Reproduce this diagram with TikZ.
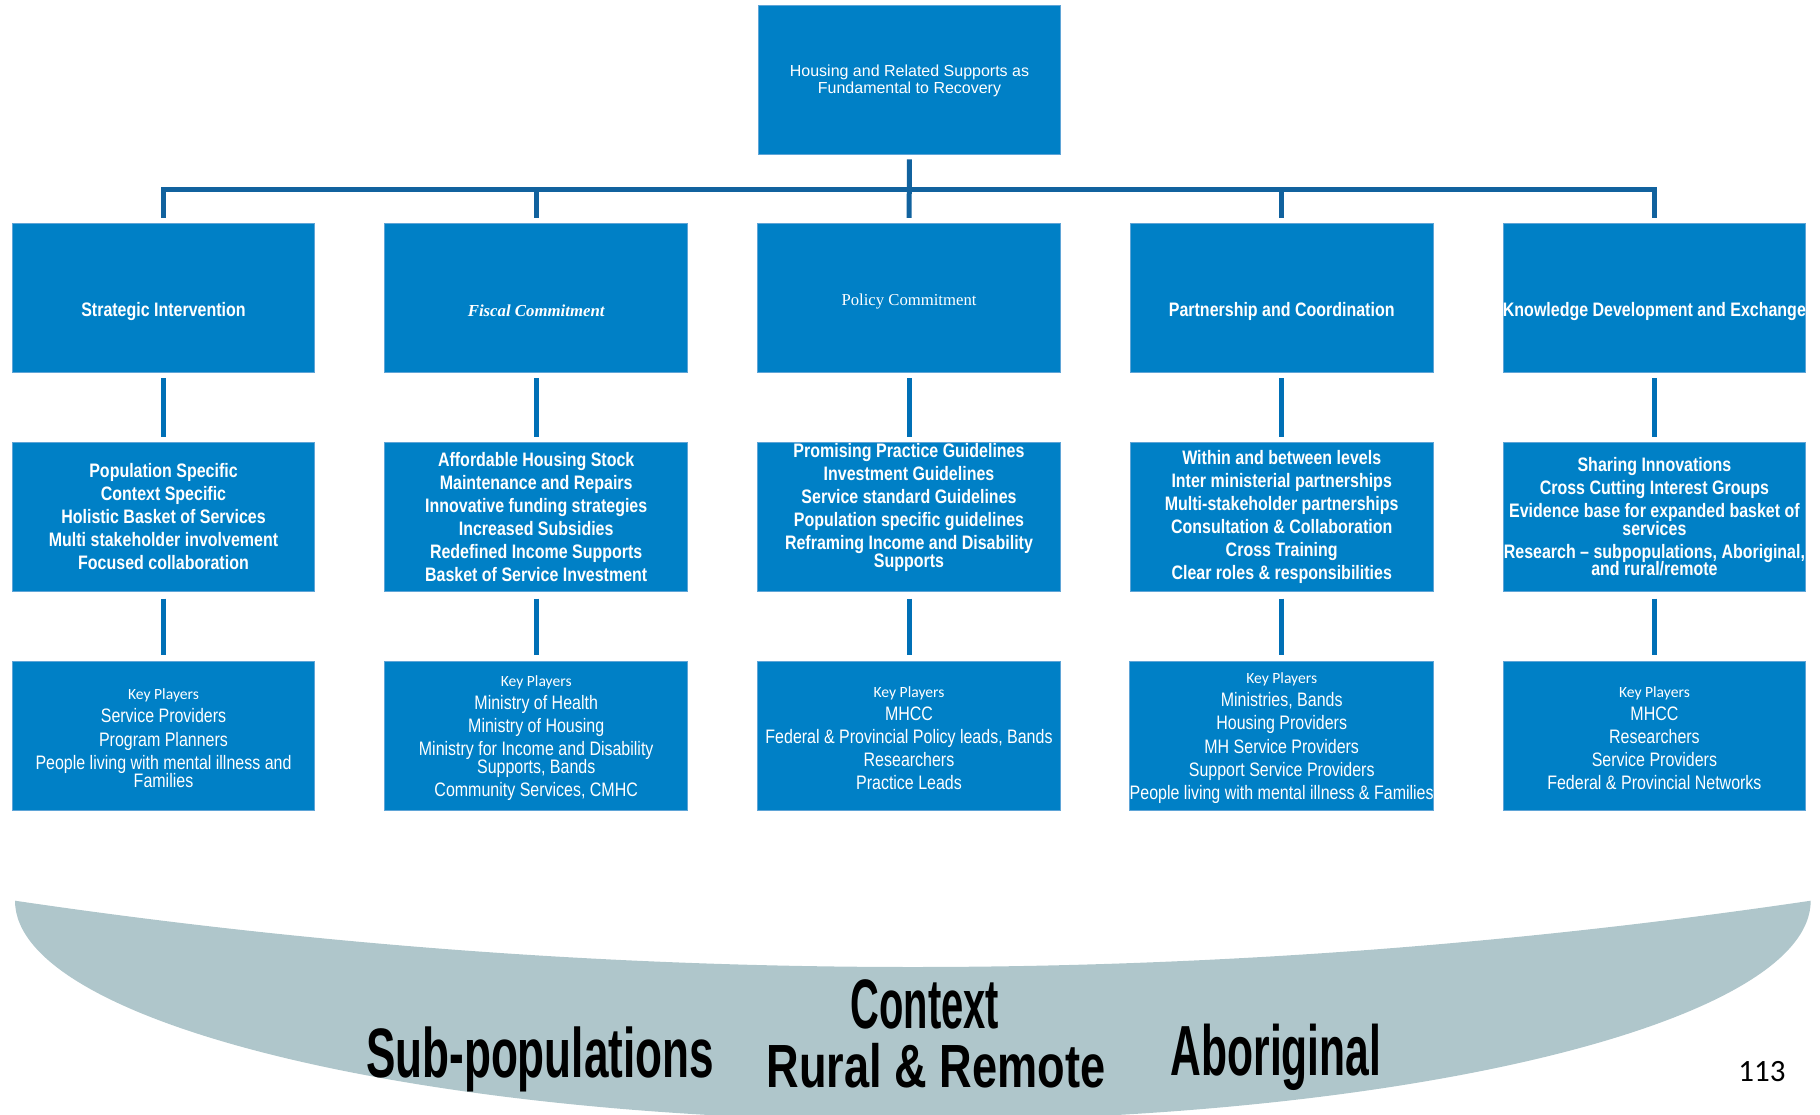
\documentclass[tikz,border=0pt]{standalone}
\usepackage{fontspec}
\newfontfamily\narfont[FakeStretch=0.82]{Liberation Sans}
\newfontfamily\arfont{Liberation Sans}
\newfontfamily\serfont{Liberation Serif}
\newfontfamily\calfont{Carlito}
\newfontfamily\ctxfontA[FakeStretch=0.57]{Liberation Sans}
\newfontfamily\ctxfontB[FakeStretch=0.63]{Liberation Sans}
\newfontfamily\ctxfontC[FakeStretch=0.74]{Liberation Sans}
\newfontfamily\ctxfontD[FakeStretch=0.60]{Liberation Sans}
\definecolor{boxblue}{RGB}{0,128,198}
\definecolor{boxedge}{RGB}{95,165,215}
\definecolor{connblue}{RGB}{0,112,182}
\definecolor{bardark}{RGB}{17,98,158}
\definecolor{crescent}{RGB}{175,198,203}
\tikzset{
  box/.style={fill=boxblue, draw=boxedge, line width=0.8pt, minimum width=302.7pt,
    minimum height=149pt, inner sep=0pt, text=white, align=center},
  conn/.style={draw=connblue, line width=5pt},
  barline/.style={draw=bardark, line width=5pt, line join=miter},
  titletext/.style={text=white, inner sep=0pt, align=center,
    font=\narfont\bfseries\fontsize{19.5}{23}\selectfont},
  rowtwo/.style={font=\narfont\bfseries\fontsize{19.5}{23}\selectfont},
  rowthree/.style={font=\narfont\fontsize{19.5}{23.2}\selectfont},
  ctxtext/.style={text=black, inner sep=0pt, anchor=base},
}
\newcommand{\kp}{{\calfont\fontsize{15.6}{23.2}\selectfont\rule{0pt}{16pt}Key Players}\\}
\begin{document}
\begin{tikzpicture}[x=1pt,y=-1pt]
\useasboundingbox (0,0) rectangle (1820,1115);

% crescent
\fill[crescent] (15,900.7) arc[start angle=180, end angle=0, x radius=897.85, y radius=220]
  .. controls (1212,989.1) and (613.7,989.1) .. (15,900.7) -- cycle;

% top box
\node[box] (top) at (909.5,79.5) {};
\node[titletext, font=\arfont\fontsize{16}{17}\selectfont] (ttop) at (909.5,80.5)
  {Housing and Related Supports as\\Fundamental to Recovery};

% row 1
\node[box] (r1a) at (163.5,297.8) {};
\node[box] (r1b) at (536.2,297.8) {};
\node[box] (r1c) at (909,297.8) {};
\node[box] (r1d) at (1281.7,297.8) {};
\node[box] (r1e) at (1654.4,297.8) {};
\node[titletext] (t1a) at (163.5,311.5) {Strategic Intervention};
\node[titletext, font=\serfont\bfseries\itshape\fontsize{16.8}{17}\selectfont] (t1b) at (536.2,310.5) {Fiscal Commitment};
\node[titletext, font=\serfont\fontsize{16.7}{17}\selectfont] (t1c) at (909,301.5) {Policy Commitment};
\node[titletext] (t1d) at (1281.7,311.5) {Partnership and Coordination};
\node[titletext] (t1e) at (1654.4,311.5) {Knowledge Development and Exchange};

% row 2
\node[box, rowtwo] (r2a) at (163.5,516.8) {Population Specific\\Context Specific\\Holistic Basket of Services\\Multi stakeholder involvement\\Focused collaboration};
\node[box, rowtwo] (r2b) at (536.2,516.8) {Affordable Housing Stock\\Maintenance and Repairs\\Innovative funding strategies\\Increased Subsidies\\Redefined Income Supports\\Basket of Service Investment};
\node[box] (r2c) at (909,516.8) {};
\node[titletext, rowtwo] (t2c) at (909,507.5) {Promising Practice Guidelines\\Investment Guidelines\\Service standard Guidelines\\Population specific guidelines\\Reframing Income and Disability\\[-5.5pt]Supports};
\node[box, rowtwo] (r2d) at (1281.7,516.8) {Within and between levels\\Inter ministerial partnerships\\Multi-stakeholder partnerships\\Consultation \& Collaboration\\Cross Training\\Clear roles \& responsibilities};
\node[box, rowtwo] (r2e) at (1654.4,516.8) {Sharing Innovations\\Cross Cutting Interest Groups\\Evidence base for expanded basket of\\[-5.5pt]services\\Research – subpopulations, Aboriginal,\\[-5.5pt]and rural/remote};

% row 3
\node[box, rowthree] (r3a) at (163.5,735.5) {\kp Service Providers\\Program Planners\\People living with mental illness and\\[-5.5pt]Families};
\node[box, rowthree] (r3b) at (536.2,735.5) {\kp Ministry of Health\\Ministry of Housing\\Ministry for Income and Disability\\[-5.5pt]Supports, Bands\\Community Services, CMHC};
\node[box, rowthree] (r3c) at (909,735.5) {\kp MHCC\\Federal \& Provincial Policy leads, Bands\\Researchers\\Practice Leads};
\node[box, rowthree] (r3d) at (1281.7,735.5) {\kp Ministries, Bands\\Housing Providers\\MH Service Providers\\Support Service Providers\\People living with mental illness \& Families};
\node[box, rowthree] (r3e) at (1654.4,735.5) {\kp MHCC\\Researchers\\Service Providers\\Federal \& Provincial Networks};

% bar and stems
\coordinate (barmid) at (909,189.2);
\draw[barline] ([yshift=5pt]r1a.north) |- (barmid) -| ([yshift=5pt]r1e.north);
\draw[barline] (barmid -| r1b.north) -- ([yshift=5pt]r1b.north);
\draw[barline] (barmid -| r1d.north) -- ([yshift=5pt]r1d.north);
\draw[barline, shorten <=5pt, shorten >=5pt] (top) -- (r1c);

% row connectors
\foreach \c in {a,b,c,d,e}{
  \draw[conn, shorten <=5.5pt, shorten >=5pt] (r1\c) -- (r2\c);
  \draw[conn, shorten <=7pt, shorten >=5.5pt] (r2\c) -- (r3\c);
}

% context texts
\node[ctxtext, font=\ctxfontA\bfseries\fontsize{70}{70}\selectfont] (ctx) at (925,1028) {Context};
\node[ctxtext, font=\ctxfontB\bfseries\fontsize{70}{70}\selectfont] (subp) at (540,1077) {Sub-populations};
\node[ctxtext, font=\ctxfontC\bfseries\fontsize{61}{61}\selectfont] (rural) at (936,1087) {Rural \& Remote};
\node[ctxtext, font=\ctxfontD\bfseries\fontsize{71}{71}\selectfont] (abor) at (1276,1075) {Aboriginal};
\node[ctxtext, font=\calfont\fontsize{31}{31}\selectfont] (pg) at (1762,1081) {113};
\end{tikzpicture}
\end{document}
